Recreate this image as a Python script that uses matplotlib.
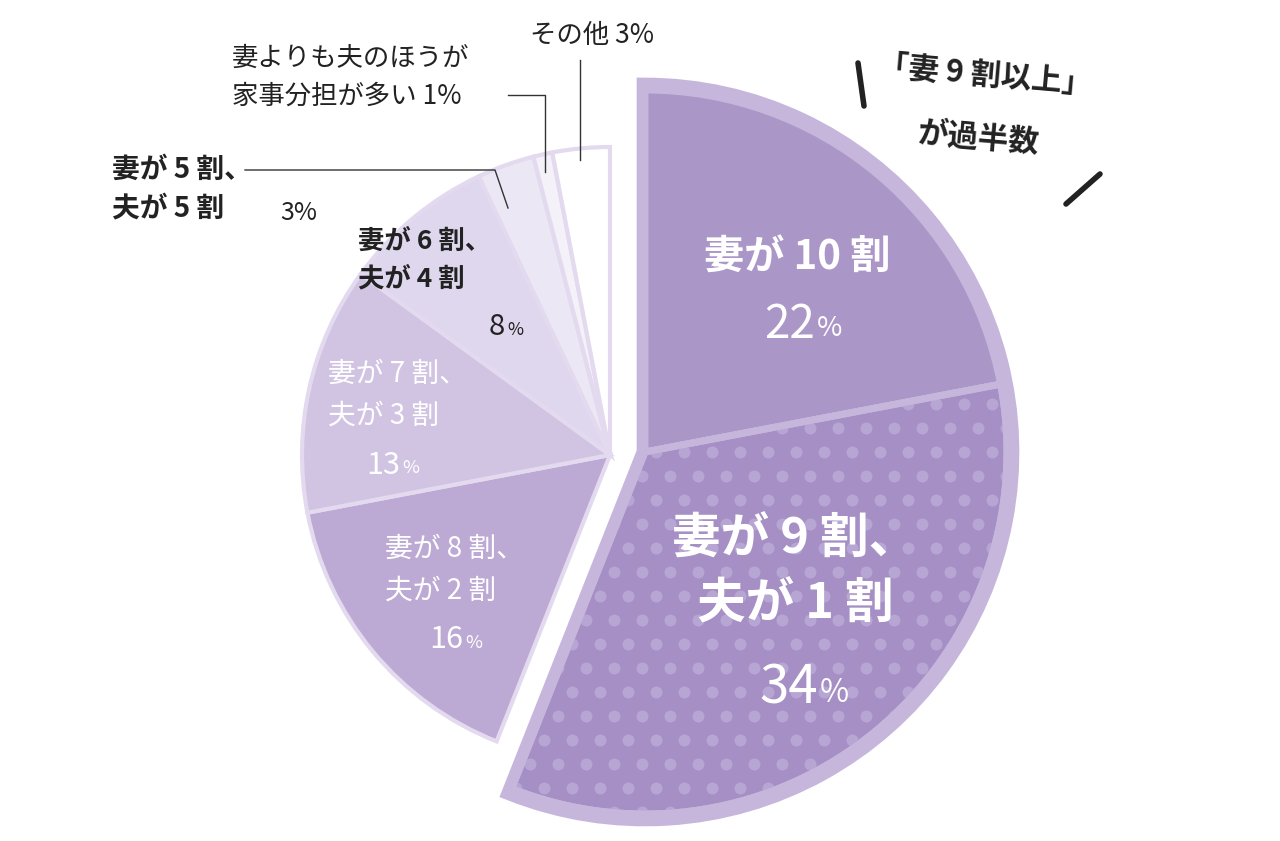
import matplotlib.pyplot as plt
from matplotlib.patches import Wedge
import numpy as np

plt.rcParams['font.family'] = ['Noto Sans CJK JP', 'DejaVu Sans']

labels = ['妻が 10 割', '妻が 9 割、\n夫が 1 割', '妻が 8 割、\n夫が 2 割', '妻が 7 割、\n夫が 3 割',
          '妻が 6 割、\n夫が 4 割', '妻が 5 割、\n夫が 5 割', '妻よりも夫のほうが\n家事分担が多い', 'その他']
values = [22, 34, 16, 13, 8, 3, 1, 3]
colors = ['#ab96c8', '#a58fc4', '#bcaad5', '#d1c4e3', '#dfd7ed', '#ece7f4', '#f4f1f9', '#ffffff']

fig = plt.figure(figsize=(12.8, 8.41), dpi=100)
ax = fig.add_axes([0, 0, 1, 1])
ax.set_xlim(0, 1280)
ax.set_ylim(841, 0)
ax.set_aspect('equal')
ax.axis('off')

# angles (y axis is flipped, so angles go clockwise on screen)
cum = np.concatenate([[0], np.cumsum(values)]) / sum(values) * 360
starts = cum[:-1] - 90
ends = cum[1:] - 90

c_small = (610, 455)
r_small = 308
c_big = (645, 452)
r_big = 362

# outline for exploded group
ax.add_patch(Wedge(c_big, r_big + 4, starts[0], ends[1], facecolor='none',
                   edgecolor='#c6b6dc', lw=12, zorder=1))
for i in range(len(values)):
    if i < 2:
        w = Wedge(c_big, r_big, starts[i], ends[i], facecolor=colors[i],
                  edgecolor='#c6b6dc', lw=5, zorder=2)
    else:
        w = Wedge(c_small, r_small, starts[i], ends[i], facecolor=colors[i],
                  edgecolor='#e3daef', lw=3, zorder=2)
    ax.add_patch(w)
    if i == 1:
        dot_wedge = w

# dot pattern on the 34% slice
gx, gy = np.meshgrid(np.arange(250, 1100, 28), np.arange(380, 860, 24))
gx = gx + (np.arange(gx.shape[0])[:, None] % 2) * 14
sc = ax.scatter(gx.ravel(), gy.ravel(), s=75, color='#b7a5d3', lw=0, zorder=3)
sc.set_clip_path(dot_wedge)
ax.add_patch(Wedge(c_big, r_big, starts[1], ends[1], facecolor='none',
                   edgecolor='#c6b6dc', lw=5, zorder=4))


def pct(x, y, v, size, color):
    ax.text(x, y, str(v), fontsize=size, color=color, ha='right', va='center', zorder=5)
    ax.text(x + 2, y + size * 0.12, '%', fontsize=size * 0.6, color=color, ha='left', va='center', zorder=5)


W = 'white'
D = '#222222'
ax.text(797, 258, labels[0], fontsize=29, color=W, ha='center', va='center', fontweight='bold', zorder=5)
pct(815, 325, values[0], 33, W)
ax.text(795, 572, labels[1], fontsize=35, color=W, ha='center', va='center', fontweight='bold',
        linespacing=1.4, zorder=5)
pct(818, 688, values[1], 38, W)
ax.text(385, 570, labels[2], fontsize=20, color=W, ha='left', va='center', linespacing=1.5, zorder=5)
pct(463, 640, values[2], 22, W)
ax.text(328, 395, labels[3], fontsize=20, color=W, ha='left', va='center', linespacing=1.5, zorder=5)
pct(400, 465, values[3], 22, W)
ax.text(358, 260, labels[4], fontsize=19, color=D, ha='left', va='center', fontweight='bold',
        linespacing=1.5, zorder=5)
pct(505, 327, values[4], 21, D)
ax.text(112, 189, labels[5], fontsize=20, color=D, ha='left', va='center', fontweight='bold',
        linespacing=1.5, zorder=5)
ax.text(280, 213, f'{values[5]}%', fontsize=18, color=D, ha='left', va='center', zorder=5)
ax.text(232, 77, labels[6] + f' {values[6]}%', fontsize=19, color=D, ha='left', va='center',
        linespacing=1.5, zorder=5)
ax.text(530, 35, labels[7] + f' {values[7]}%', fontsize=19, color=D, ha='left', va='center', zorder=5)

# leader lines
ax.plot([245, 495, 508], [170, 170, 208], color='#333333', lw=1, zorder=5)
ax.plot([508, 545, 545], [95, 95, 172], color='#333333', lw=1, zorder=5)
ax.plot([580, 580], [60, 160], color='#333333', lw=1, zorder=5)

# callout
ax.text(985, 75, '「妻 9 割以上」', fontsize=22, color=D, ha='center', va='center', fontweight='bold',
        rotation=-5, zorder=5)
ax.text(978, 138, 'が過半数', fontsize=22, color=D, ha='center', va='center', fontweight='bold',
        rotation=-5, zorder=5)
ax.plot([858, 864], [63, 106], color='#222222', lw=4, solid_capstyle='round')
ax.plot([1100, 1066], [174, 204], color='#222222', lw=4, solid_capstyle='round')

fig.savefig('out.png', dpi=100)
